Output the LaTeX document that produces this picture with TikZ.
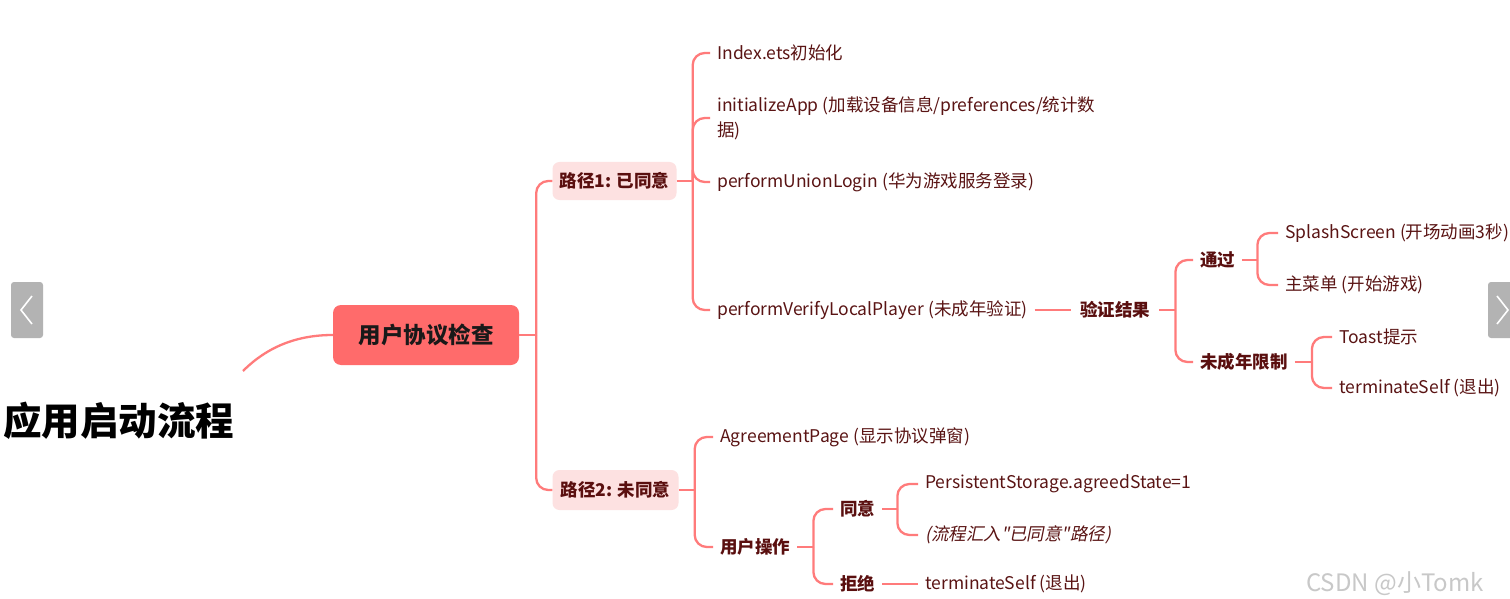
\documentclass[tikz,border=0pt]{standalone}
\usepackage{fontspec}
\setmainfont{Noto Sans CJK SC}
\newfontfamily\slantfont[FakeSlant=0.2]{Noto Sans CJK SC}
\definecolor{lc}{HTML}{FF7B7B}
\definecolor{rootfill}{HTML}{FF6B6B}
\definecolor{lvfill}{HTML}{FDE1E1}
\definecolor{labc}{HTML}{5A0F0F}
\definecolor{leafc}{HTML}{5A1414}
\definecolor{btn}{HTML}{B3B3B3}
\definecolor{wmc}{HTML}{C8C8C8}
\begin{document}
\begin{tikzpicture}[x=1pt,y=-1pt,
  stem/.style={draw=lc, line width=2.3pt},
  conn/.style={draw=lc, line width=2.3pt, rounded corners=12pt},
  txt/.style={anchor=west, inner xsep=7pt, inner ysep=2pt, text=leafc, font=\fontsize{17.5}{25}\selectfont},
  lab/.style={txt, text=labc, font=\fontsize{17.5}{22}\selectfont\bfseries},
  lvbox/.style={fill=lvfill, rounded corners=7pt, minimum height=38pt, minimum width=124pt, inner sep=0pt, text=labc, font=\fontsize{17.5}{20}\selectfont\bfseries},
  rootbox/.style={fill=rootfill, rounded corners=8pt, minimum height=60pt, minimum width=186pt, inner sep=0pt, text=black!90, font=\fontsize{22.5}{26}\selectfont\bfseries},
  navbtn/.style={fill=btn, rounded corners=3pt},
  chev/.style={draw=white, line width=1.6pt}
]
\useasboundingbox (0,0) rectangle (1510,599);
\fill[white] (0,0) rectangle (1510,599);
\clip (0,0) rectangle (1510,599);

% carousel buttons
\fill[navbtn] (11,282) rectangle (43,338);
\draw[chev] (32,296) -- (21,310) -- (32,324);
\fill[navbtn] (1488,282) rectangle (1520,338);
\draw[chev] (1497,296) -- (1508,310) -- (1497,324);

% title and root
\node[anchor=west, inner sep=0pt, font=\fontsize{38.5}{40}\selectfont\bfseries] (title) at (3,421) {应用启动流程};
\node[rootbox] (root) at (426,335) {用户协议检查};
\coordinate (tail) at (243,371);
\draw[stem] (tail) .. controls (268,346) and (298,335) .. (root.west);

% level 2
\node[lvbox] (p1) at (614.5,181) {路径1: 已同意};
\node[lvbox, minimum width=126pt, minimum height=40pt] (p2) at (615.5,490) {路径2: 未同意};
\draw[stem] (root.east) -- ([xshift=17pt]root.east);
\draw[conn] ([xshift=17pt]root.east) |- (p1.west);
\draw[conn] ([xshift=17pt]root.east) |- (p2.west);

% path 1 children
\node[txt] (i1) at (710,53) {Index.ets初始化};
\node[txt, align=left] (i2) at (710,118) {initializeApp (加载设备信息/preferences/统计数\\据)};
\node[txt] (i3) at (710,182) {performUnionLogin (华为游戏服务登录)};
\node[txt] (i4) at (710,310) {performVerifyLocalPlayer (未成年验证)};
\draw[stem] (p1.east) -- ([xshift=16pt]p1.east);
\foreach \c in {i1,i2,i3,i4}
  \draw[conn] ([xshift=16pt]p1.east) |- (\c.west);

% verification result
\node[lab, inner xsep=9pt] (v) at (1071,310) {验证结果};
\draw[stem] (i4.east) -- (v.west);
\node[lab] (t) at (1193,260) {通过};
\node[lab] (m) at (1193,362) {未成年限制};
\draw[stem] (v.east) -- ([xshift=16pt]v.east);
\draw[conn] ([xshift=16pt]v.east) |- (t.west);
\draw[conn] ([xshift=16pt]v.east) |- (m.west);

\node[txt] (s1) at (1278,233) {SplashScreen (开场动画3秒)};
\node[txt] (s2) at (1278,285) {主菜单 (开始游戏)};
\draw[stem] (t.east) -- ([xshift=15pt]t.east);
\draw[conn] ([xshift=15pt]t.east) |- (s1.west);
\draw[conn] ([xshift=15pt]t.east) |- (s2.west);

\node[txt] (toast) at (1332,337) {Toast提示};
\node[txt] (term1) at (1332,388) {terminateSelf (退出)};
\draw[stem] (m.east) -- ([xshift=17pt]m.east);
\draw[conn] ([xshift=17pt]m.east) |- (toast.west);
\draw[conn] ([xshift=17pt]m.east) |- (term1.west);

% path 2 children
\node[txt] (ag) at (713,437) {AgreementPage (显示协议弹窗)};
\node[lab] (u) at (713,547) {用户操作};
\draw[stem] (p2.east) -- ([xshift=16pt]p2.east);
\draw[conn] ([xshift=16pt]p2.east) |- (ag.west);
\draw[conn] ([xshift=16pt]p2.east) |- (u.west);

\node[lab] (a) at (833,509) {同意};
\node[lab] (r) at (833,584) {拒绝};
\draw[stem] (u.east) -- ([xshift=16pt]u.east);
\draw[conn] ([xshift=16pt]u.east) |- (a.west);
\draw[conn] ([xshift=16pt]u.east) |- (r.west);

\node[txt] (ps) at (918,484) {PersistentStorage.agreedState=1};
\node[txt, font=\fontsize{17.5}{22}\slantfont] (fl) at (918,535) {(流程汇入"已同意"路径)};
\draw[stem] (a.east) -- ([xshift=15pt]a.east);
\draw[conn] ([xshift=15pt]a.east) |- (ps.west);
\draw[conn] ([xshift=15pt]a.east) |- (fl.west);

\node[txt] (term2) at (918,584) {terminateSelf (退出)};
\draw[stem] (r.east) -- (term2.west);

% watermark
\node[anchor=west, inner sep=0pt, text=wmc, font=\fontsize{24}{26}\selectfont] (wm) at (1306,584) {CSDN @小Tomk};
\end{tikzpicture}
\end{document}
